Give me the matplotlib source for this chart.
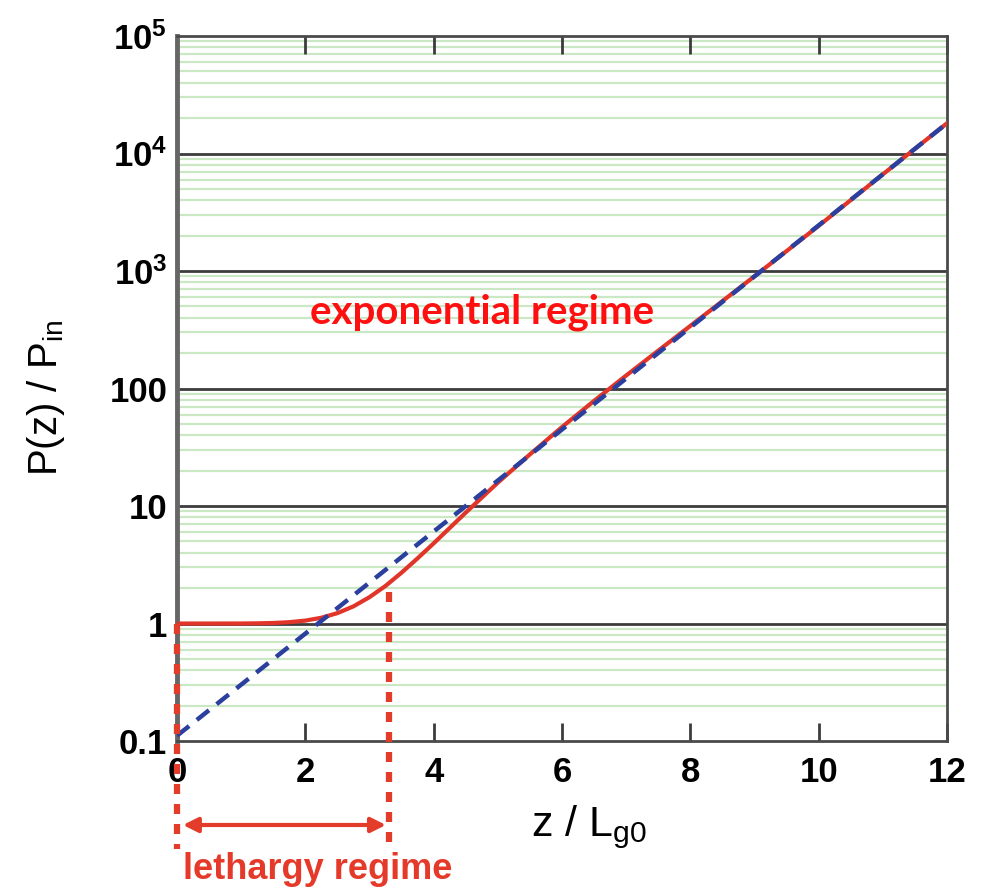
import matplotlib
matplotlib.use("Agg")
import matplotlib.pyplot as plt
import numpy as np

plt.rcParams['font.family'] = ['Liberation Sans', 'DejaVu Sans']
plt.rcParams['mathtext.fontset'] = 'custom'
plt.rcParams['mathtext.rm'] = 'Liberation Sans'
plt.rcParams['mathtext.bf'] = 'Liberation Sans:bold'
plt.rcParams['mathtext.it'] = 'Liberation Sans:italic'

# red curve: power gain
z_red = [0, 0.5, 1, 1.25, 1.5, 1.75, 2, 2.25, 2.5, 2.75, 3, 3.25, 3.5, 3.75,
         4, 4.5, 5, 5.5, 6, 6.5, 7, 7.5, 8, 9, 10, 11, 12]
p_red = [1.0, 1.0, 1.001, 1.004, 1.011, 1.027, 1.059, 1.12, 1.226, 1.40, 1.676,
         2.09, 2.71, 3.59, 4.81, 8.79, 15.8, 27.5, 47.0, 78.5, 129, 210, 341,
         902, 2423, 6650, 18080]

# blue dashed asymptote (straight line on log axis)
z_blue = [0, 12]
p_blue = [0.111, 18080]

z_leth = 3.3          # end of lethargy regime
xticks = [0, 2, 4, 6, 8, 10, 12]
yticks = [0.1, 1, 10, 100, 1e3, 1e4, 1e5]
ylabels = ['0.1', '1', '10', '100', r'$\mathbf{10^3}$', r'$\mathbf{10^4}$', r'$\mathbf{10^5}$']

fig = plt.figure(figsize=(9.92, 8.94), dpi=100)
ax = fig.add_axes([0.1784, 0.1711, 0.7762, 0.7886])

ax.set_yscale('log')
ax.set_xlim(0, 12)
ax.set_ylim(0.1, 1e5)

# horizontal grid: light green for 2..9 in every decade, dark for decades
for dec in yticks[:-1]:
    for m in range(2, 10):
        ax.axhline(dec * m, color='#cbe8c4', lw=1.6, zorder=0.2)
for y in yticks[1:-1]:
    ax.axhline(y, color='#3c3c3c', lw=2.0, zorder=0.3)

ax.plot(z_blue, p_blue, color='#2b3f9e', lw=3.2, ls=(0, (3.5, 2.2)), zorder=4)
ax.plot(z_red, p_red, color='#e2352a', lw=3, zorder=3)

# lethargy markers
red_d = '#e43c2a'
ax.plot([0, 0], [1, 0.012], color=red_d, lw=4.5, ls=(0, (1.6, 1.6)), clip_on=False, zorder=5)
ax.plot([z_leth, z_leth], [1.84, 0.012], color=red_d, lw=4.5, ls=(0, (1.6, 1.6)), clip_on=False, zorder=5)
ax.annotate('', xy=(0.05, 0.0193), xytext=(z_leth, 0.0193), annotation_clip=False,
            arrowprops=dict(arrowstyle='<|-|>', color=red_d, lw=3, mutation_scale=22))

ax.set_xticks(xticks)
ax.set_xticklabels([str(v) for v in xticks])
ax.set_yticks(yticks)
ax.set_yticklabels(ylabels)
ax.yaxis.set_minor_locator(matplotlib.ticker.NullLocator())
ax.tick_params(axis='x', which='major', direction='in', length=13, width=2, color='#3c3c3c',
               top=True, labelsize=25, pad=11)
ax.tick_params(axis='y', which='both', length=0, labelsize=25, pad=7)
for lab in ax.get_xticklabels() + ax.get_yticklabels():
    lab.set_fontweight('bold')

for s in ax.spines.values():
    s.set_color('#4a4a4a')
    s.set_linewidth(2)
ax.spines['left'].set_linewidth(3.5)
ax.spines['left'].set_color('#666666')

ax.set_xlabel(r'z / L$_{\rm g0}$', fontsize=31)
ax.xaxis.set_label_coords(0.535, -0.088)
ax.set_ylabel(r'P(z) / P$_{\rm in}$', fontsize=29)
ax.yaxis.set_label_coords(-0.143, 0.487)

fig.text(0.486, 0.651, 'exponential regime', color='#ff1010', fontsize=29,
         fontweight='bold', family=['Lato', 'DejaVu Sans'], ha='center', va='center')
fig.text(0.184, 0.027, 'lethargy regime', color='#e53a2a', fontsize=26,
         fontweight='bold', ha='left', va='center')

fig.savefig('out.png', dpi=100)
